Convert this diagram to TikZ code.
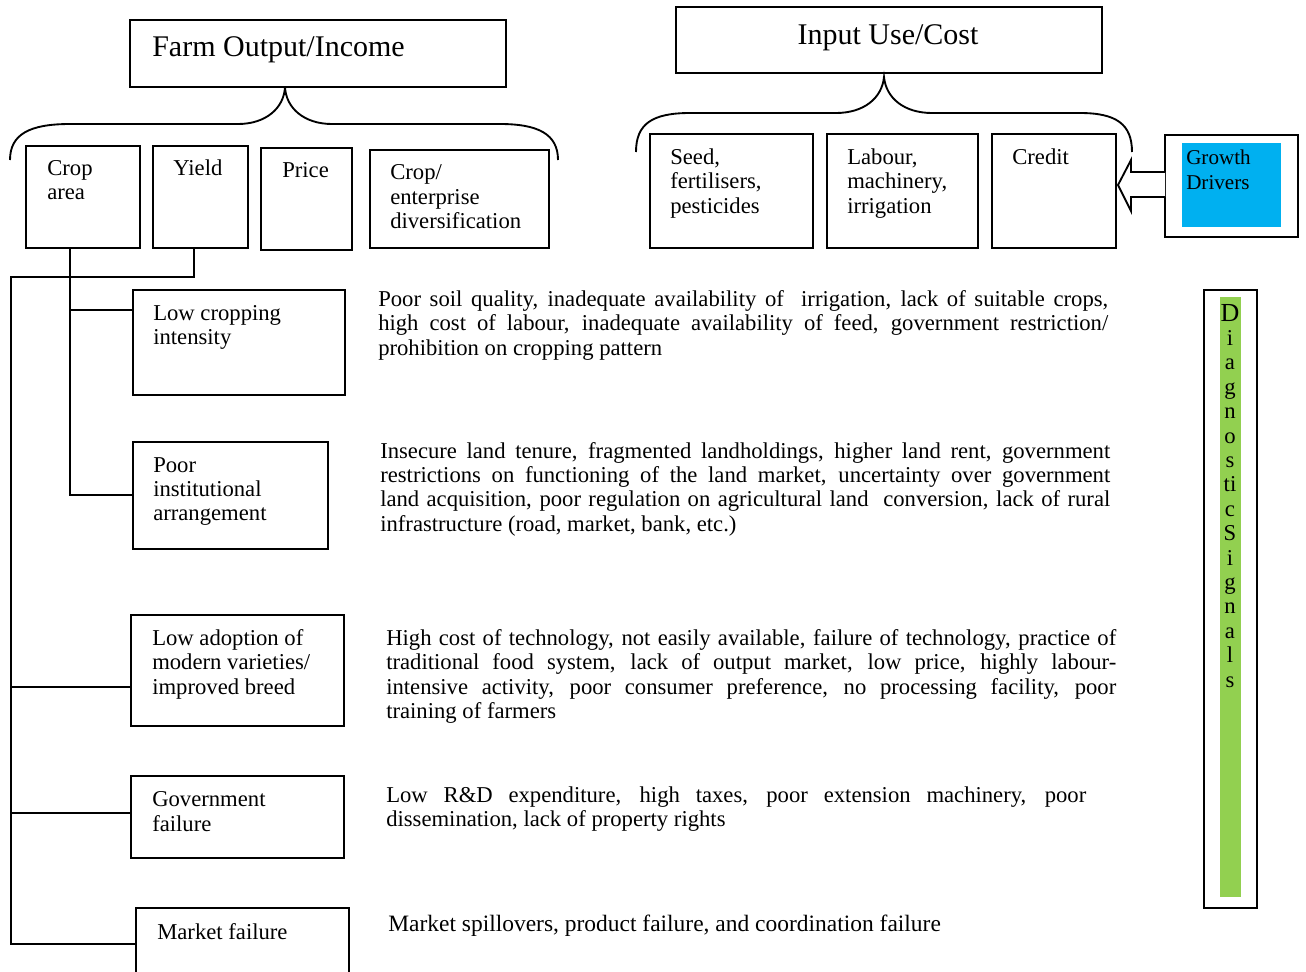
\documentclass[tikz,border=0pt]{standalone}
\usepackage{fontspec}
\setmainfont{Liberation Serif}
\usetikzlibrary{calc}
\definecolor{gdblue}{HTML}{00B0F0}
\definecolor{dsgreen}{HTML}{92D050}
\newcommand\mybox[5]{\node[box,minimum width={(#4-#2)*0.75pt},minimum height={(#5-#3)*0.75pt}] (#1) at ({(#2+#4)/2},{(#3+#5)/2}) {};}
\newcommand\tline[4]{\node[txt] (#1) at (#2,#3) {#4};}
\newcommand\jline[5]{\node[txt] (#1) at (#2,#3) {\makebox[#4][s]{#5}};}
\begin{document}
\begin{tikzpicture}[x=0.75pt,y=-0.75pt,
  box/.style={draw,line width=1.4pt,inner sep=0,outer sep=0},
  txt/.style={inner sep=0,anchor=base west,font=\fontsize{17}{20}\selectfont},
  ttl/.style={inner sep=0,font=\fontsize{22.5}{26}\selectfont},
  brace/.style={line width=1.4pt},
  conn/.style={line width=1.4pt}]
\useasboundingbox (0,0) rectangle (1306,971);

% ---- top boxes
\mybox{fo}{130}{20}{506}{87}
\node[ttl,anchor=base west] (fot) at (152,56) {Farm Output/Income};
\mybox{iu}{676}{7}{1102}{73}
\node[ttl,anchor=base] (iut) at (888,44) {Input Use/Cost};

% ---- braces
\draw[brace] (10,160) .. controls (10,134) and (30,124) .. (70,124) -- (238,124)
  .. controls (266,124) and (284,108) .. (285,87)
  .. controls (286,108) and (304,124) .. (332,124) -- (500,124)
  .. controls (538,124) and (558,134) .. (558,160);
\draw[brace] (636,152) .. controls (636,124) and (652,113) .. (690,113) -- (836,113)
  .. controls (864,113) and (882,98) .. (884,77)
  .. controls (886,98) and (904,113) .. (932,113) -- (1080,113)
  .. controls (1116,113) and (1132,124) .. (1132,152);

% ---- output components
\mybox{crop}{26}{146}{140}{248}
\tline{cropt1}{47}{175}{Crop}
\tline{cropt2}{47}{199}{area}
\mybox{yield}{153}{146}{248}{248}
\tline{yieldt}{173}{175}{Yield}
\mybox{price}{261}{148}{352}{250}
\tline{pricet}{282}{177}{Price}
\mybox{ced}{370}{150}{549}{248}
\tline{cedt1}{390}{179}{Crop/}
\tline{cedt2}{390}{204}{enterprise}
\tline{cedt3}{390}{228}{diversification}

% ---- input components
\mybox{seed}{650}{134}{813}{248}
\tline{seedt1}{670}{164}{Seed,}
\tline{seedt2}{670}{188}{fertilisers,}
\tline{seedt3}{670}{213}{pesticides}
\mybox{lab}{827}{134}{978}{248}
\tline{labt1}{847}{164}{Labour,}
\tline{labt2}{847}{188}{machinery,}
\tline{labt3}{847}{213}{irrigation}
\mybox{cred}{992}{134}{1116}{248}
\tline{credt}{1012}{164}{Credit}

% ---- growth drivers
\mybox{gd}{1165}{135}{1298}{237}
\fill[gdblue] (1182,143) rectangle (1281,227);
\node[inner sep=0,anchor=base west,font=\fontsize{15.8}{18}\selectfont] (gdt1) at (1186,164) {Growth};
\node[inner sep=0,anchor=base west,font=\fontsize{15.8}{18}\selectfont] (gdt2) at (1186,189) {Drivers};
\draw[line width=1.4pt,fill=white] (gd.west |- 0,172) -- (1131,172) -- (1131,160) -- (1118,185)
  -- (1131,211) -- (1131,197) -- (gd.west |- 0,197);

% ---- problem boxes
\mybox{lci}{133}{290}{345}{395}
\tline{lcit1}{153}{320}{Low cropping}
\tline{lcit2}{153}{344}{intensity}
\mybox{pia}{133}{442}{328}{549}
\tline{piat1}{153}{472}{Poor}
\tline{piat2}{153}{496}{institutional}
\tline{piat3}{153}{520}{arrangement}
\mybox{lam}{131}{615}{344}{726}
\tline{lamt1}{152}{645}{Low adoption of}
\tline{lamt2}{152}{669}{modern varieties/}
\tline{lamt3}{152}{694}{improved breed}
\mybox{gf}{131}{776}{344}{858}
\tline{gft1}{152}{806}{Government}
\tline{gft2}{152}{831}{failure}
\mybox{mf}{136}{908}{349}{990}
\tline{mft}{157}{939}{Market failure}

% ---- connectors
\coordinate (j1) at (70,310);
\coordinate (j2) at (70,495);
\draw[conn] (crop.south -| j1) -- (j2) -- (pia.west |- j2);
\draw[conn] (j1) -- (lci.west |- j1);
\coordinate (y1) at (194,277);
\coordinate (y2) at (11,277);
\coordinate (y3) at (11,944);
\draw[conn] (yield.south -| y1) -- (y1) -- (y2) -- (y3) -- (mf.west |- y3);
\coordinate (b1) at (11,687);
\coordinate (b2) at (11,813);
\draw[conn] (b1) -- (lam.west |- b1);
\draw[conn] (b2) -- (gf.west |- b2);

% ---- explanations
\jline{e1a}{378}{306}{547.5pt}{Poor soil quality, inadequate availability of\ \ irrigation, lack of suitable crops,}
\jline{e1b}{378}{330}{547.5pt}{high cost of labour, inadequate availability of feed, government restriction/}
\tline{e1c}{378}{355}{prohibition on cropping pattern}

\jline{e2a}{380}{458}{547.5pt}{Insecure land tenure, fragmented landholdings, higher land rent, government}
\jline{e2b}{380}{482}{547.5pt}{restrictions on functioning of the land market, uncertainty over government}
\jline{e2c}{380}{506}{547.5pt}{land acquisition, poor regulation on agricultural land\ \ conversion, lack of rural}
\tline{e2d}{380}{531}{infrastructure (road, market, bank, etc.)}

\jline{e3a}{386}{645}{547.5pt}{High cost of technology, not easily available, failure of technology, practice of}
\jline{e3b}{386}{669}{547.5pt}{traditional food system, lack of output market, low price, highly labour-}
\jline{e3c}{386}{694}{547.5pt}{intensive activity, poor consumer preference, no processing facility, poor}
\tline{e3d}{386}{718}{training of farmers}

\jline{e4a}{386}{802}{525pt}{Low R\&D expenditure, high taxes, poor extension machinery, poor}
\tline{e4b}{386}{826}{dissemination, lack of property rights}

\node[txt,font=\fontsize{17.6}{20}\selectfont] (e5) at (388,931) {Market spillovers, product failure, and coordination failure};

% ---- diagnostic signals
\mybox{ds}{1204}{290}{1257}{908}
\fill[dsgreen] (1220,297) rectangle (1241,897);
\node[inner sep=0,anchor=base,font=\fontsize{19.5}{20}\selectfont] (dl0) at (1230,321) {D};
\foreach \c [count=\i] in {i,a,g,n,o,s,ti,c,S,i,g,n,a,l,s}
  \node[inner sep=0,anchor=base,font=\fontsize{17}{20}\selectfont] (dl\i) at (1230,{321+24.4*\i}) {\c};
\end{tikzpicture}
\end{document}
